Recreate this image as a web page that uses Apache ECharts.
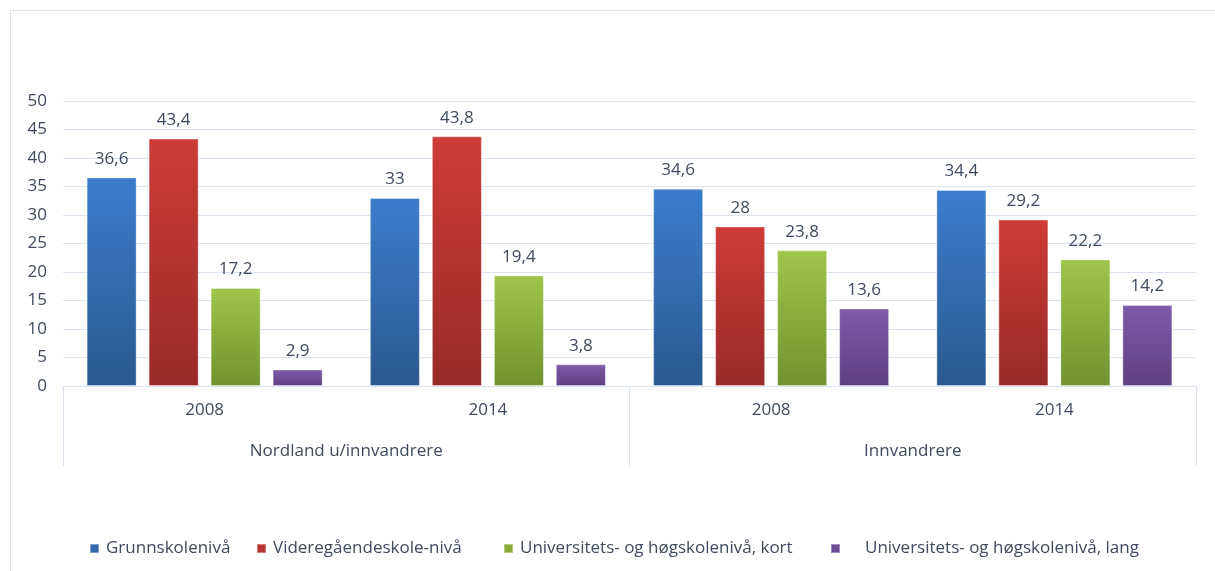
<!DOCTYPE html>
<html lang="no">
<head>
    <meta charset="UTF-8">
    <title>Utdanningsnivå</title>
    <style>
        html, body { margin: 0; padding: 0; background: #fff; }
        #frame { position: absolute; left: 10px; top: 10px; width: 1300px; height: 700px;
                 border-left: 1px solid #d9e3f2; border-top: 1px solid #d9e3f2; }
        #main { position: absolute; left: 0; top: 0; width: 1215px; height: 571px; }
    </style>
</head>
<body>
<div id="frame"></div>
<div id="main"></div>

<script src="https://cdn.jsdelivr.net/npm/echarts@6/dist/echarts.min.js"></script>
<script type="text/javascript">

    // data
    var years = ['2008', '2014', '2008', '2014'];
    var groups = ['Nordland u/innvandrere', 'Innvandrere'];
    var seriesNames = ['Grunnskolenivå', 'Videregåendeskole-nivå', 'Universitets- og høgskolenivå, kort', 'Universitets- og høgskolenivå, lang'];
    var grunnskole = [36.6, 33, 34.6, 34.4];
    var videregaende = [43.4, 43.8, 28, 29.2];
    var uniKort = [17.2, 19.4, 23.8, 22.2];
    var uniLang = [2.9, 3.8, 13.6, 14.2];

    var allValues = [grunnskole, videregaende, uniKort, uniLang];
    var colorsTop = ['#3b7dcc', '#cd3c38', '#9fc54b', '#7d5ca9'];
    var colorsBottom = ['#2b5990', '#982a27', '#71922e', '#5d4080'];
    var solid = ['#3469ad', '#b8332f', '#8aad3d', '#6b4d94'];

    var textColor = '#3e4a5f';
    var lineColor = '#d9e3f2';
    var font = 'Open Sans';

    var chart = echarts.init(document.getElementById('main'));

    var series = [];
    for (var i = 0; i < allValues.length; i++) {
        series.push({
            name: seriesNames[i],
            type: 'bar',
            data: allValues[i],
            barWidth: 50,
            barGap: '24%',
            itemStyle: {
                color: new echarts.graphic.LinearGradient(0, 0, 0, 1, [
                    {offset: 0, color: colorsTop[i]},
                    {offset: 1, color: colorsBottom[i]}
                ]),
                borderColor: 'rgba(255,255,255,0.35)',
                borderWidth: 1
            },
            label: {
                show: true,
                position: 'top',
                distance: 10,
                color: textColor,
                fontFamily: font,
                fontSize: 17,
                formatter: function (p) {
                    return String(p.value).replace('.', ',');
                }
            }
        });
    }

    // legends placed one by one like the original
    var legendX = [84, 251, 498, 825];
    var legends = [];
    for (var j = 0; j < seriesNames.length; j++) {
        legends.push({
            data: [{name: seriesNames[j], itemStyle: {color: solid[j]}}],
            left: legendX[j],
            top: 535,
            icon: 'rect',
            itemWidth: 9,
            itemHeight: 9,
            itemGap: 0,
            textStyle: {
                color: textColor,
                fontFamily: font,
                fontSize: 17,
                padding: [0, 0, 0, j === 3 ? 20 : 2]
            }
        });
    }

    chart.setOption({
        animation: false,
        grid: {left: 63, right: 19, top: 101, bottom: 185},
        legend: legends,
        xAxis: [
            {
                type: 'category',
                data: years,
                position: 'bottom',
                axisLine: {show: true, lineStyle: {color: lineColor, width: 1}},
                axisTick: {show: false},
                axisLabel: {color: textColor, fontFamily: font, fontSize: 17, margin: 16}
            },
            {
                type: 'category',
                data: groups,
                position: 'bottom',
                offset: 0,
                axisLine: {show: false},
                axisTick: {show: true, length: 80, lineStyle: {color: lineColor, width: 1}},
                axisLabel: {color: textColor, fontFamily: font, fontSize: 17, margin: 57},
                splitLine: {show: false}
            }
        ],
        yAxis: {
            type: 'value',
            min: 0,
            max: 50,
            interval: 5,
            axisLine: {show: false},
            axisTick: {show: false},
            axisLabel: {color: textColor, fontFamily: font, fontSize: 17, margin: 16},
            splitLine: {lineStyle: {color: lineColor, width: 1}}
        },
        series: series
    });
</script>
</body>
</html>
